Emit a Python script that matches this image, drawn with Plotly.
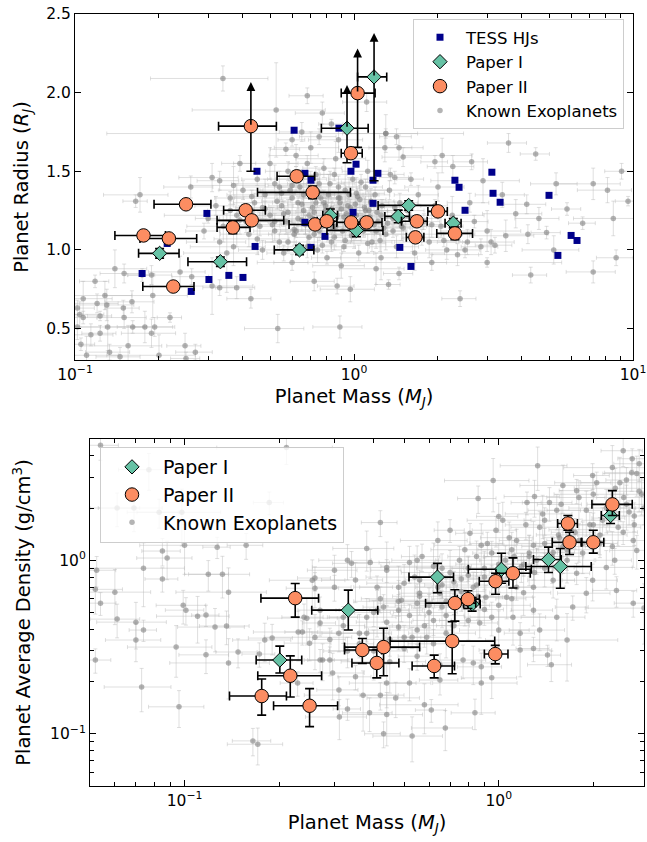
import numpy as np
import plotly.graph_objects as go

FONT = "DejaVu Sans"

# ---------------- TESS hot Jupiters (top panel) ----------------
tess_mass = [0.449, 0.610, 0.667, 0.701, 0.883, 1.017, 0.975, 1.218, 1.170, 2.30,
             2.38, 3.12, 3.15, 3.34, 2.50, 5.00, 6.00, 6.30, 5.38, 1.60,
             1.46, 0.701, 0.667, 0.787, 0.992, 1.170, 0.297, 0.442, 0.214, 0.174,
             0.302, 0.356, 0.400, 0.261]
tess_radius = [1.500, 1.761, 1.487, 1.443, 1.774, 1.545, 1.500, 1.487, 1.443, 1.443,
               1.398, 1.494, 1.360, 1.303, 1.252, 1.347, 1.092, 1.060, 0.965, 0.895,
               1.016, 1.016, 1.175, 1.086, 1.239, 1.296, 1.232, 1.022, 1.041, 0.850,
               0.812, 0.838, 0.825, 0.736]

# ---------------- Paper I ----------------
p1_mass = [0.201, 0.332, 0.638, 0.823, 1.02, 1.44, 1.57, 2.27, 0.944, 1.18]
p1_mass_lo = [0.032, 0.078, 0.12, 0.05, 0.22, 0.15, 0.35, 0.15, 0.18, 0.15]
p1_mass_hi = [0.035, 0.080, 0.08, 0.05, 0.25, 0.14, 0.40, 0.15, 0.18, 0.13]
p1_radius = [0.978, 0.925, 1.000, 1.220, 1.124, 1.213, 1.283, 1.170, 1.774, 2.100]
p1_radius_lo = [0.03, 0.03, 0.03, 0.04, 0.04, 0.04, 0.03, 0.03, 0.22, 0.66]
p1_radius_hi = [0.03, 0.03, 0.03, 0.04, 0.04, 0.04, 0.03, 0.03, 0.0, 0.0]
p1_radius_limit_tip = [None, None, None, None, None, None, None, None, 2.048, 2.379]
p1_density = [0.266, 0.516, 0.80, 0.559, 0.887, 1.01, 0.92, 1.81, None, None]
p1_density_hi = [0.054, 0.157, 0.16, 0.05, 0.21, 0.18, 0.25, 0.13, None, None]
p1_density_lo = [0.042, 0.120, 0.15, 0.05, 0.15, 0.16, 0.23, 0.18, None, None]

# ---------------- Paper II ----------------
p2_mass = [0.176, 0.217, 0.225, 0.250, 0.368, 0.409, 0.430, 0.427, 0.623, 0.711,
           0.725, 0.798, 0.977, 1.110, 1.660, 1.680, 2.000, 2.300, 0.975, 1.030]
p2_mass_lo = [0.037, 0.046, 0.050, 0.058, 0.045, 0.068, 0.107, 0.100, 0.093, 0.26,
              0.140, 0.060, 0.110, 0.130, 0.120, 0.200, 0.160, 0.320, 0.075, 0.13]
p2_mass_hi = [0.035, 0.056, 0.042, 0.057, 0.056, 0.072, 0.130, 0.100, 0.100, 0.26,
              0.120, 0.070, 0.100, 0.150, 0.120, 0.150, 0.160, 0.360, 0.095, 0.16]
p2_radius = [1.092, 1.073, 0.767, 1.290, 1.143, 1.252, 1.188, 1.787, 1.468, 1.366,
             1.162, 1.182, 1.175, 1.175, 1.080, 1.182, 1.245, 1.105, 1.615, 1.997]
p2_radius_lo = [0.02, 0.025, 0.02, 0.02, 0.04, 0.03, 0.03, 0.287, 0.03, 0.04,
                0.03, 0.03, 0.02, 0.02, 0.03, 0.03, 0.03, 0.04, 0.03, 0.345]
p2_radius_hi = [0.02, 0.025, 0.02, 0.02, 0.04, 0.03, 0.03, 0.0, 0.03, 0.04,
                0.03, 0.03, 0.02, 0.02, 0.03, 0.03, 0.03, 0.04, 0.03, 0.0]
p2_radius_limit_tip = [None, None, None, None, None, None, None, 2.067, None, None,
                       None, None, None, None, None, None, None, None, None, 2.28]
p2_density = [0.165, 0.216, 0.605, 0.145, 0.304, 0.256, 0.316, None, 0.246, 0.342,
              0.566, 0.597, 0.757, 0.842, 1.63, 1.27, 1.27, 2.10, 0.288, None]
p2_density_hi = [0.042, 0.065, 0.13, 0.037, 0.05, 0.05, 0.09, None, 0.038, 0.10,
                 0.11, 0.07, 0.085, 0.19, 0.18, 0.18, 0.22, 0.42, 0.035, None]
p2_density_lo = [0.037, 0.053, 0.135, 0.035, 0.05, 0.046, 0.10, None, 0.036, 0.12,
                 0.12, 0.07, 0.12, 0.15, 0.14, 0.19, 0.17, 0.29, 0.035, None]

# ---------------- Known exoplanets, top panel (mass, radius) ----------------
known_top_mass = [
    0.102, 0.104, 0.118, 0.139, 0.150, 0.130, 0.123, 0.150, 0.131, 0.123,
    0.114, 0.161, 0.178, 0.193, 0.188, 0.219, 0.155, 0.133, 0.248, 0.171,
    0.165, 0.533, 0.427, 0.330, 0.310, 0.380, 0.102, 0.107, 0.107, 0.120,
    0.128, 0.149, 0.160, 0.190, 0.174, 0.188, 0.238, 0.262, 0.105, 0.110,
    0.145, 0.200, 0.270, 0.250, 0.339, 0.526, 0.680, 0.770, 0.650, 0.600,
    0.570, 0.620, 0.700, 0.750, 0.830, 0.880, 1.110, 1.300, 1.420, 1.290,
    1.450, 1.500, 1.950, 2.070, 2.260, 2.640, 2.900, 1.400, 0.310, 0.330,
    0.390, 0.370, 0.260, 0.30, 0.32, 0.34, 0.36, 0.38, 0.40, 0.42,
    0.44, 0.45, 0.33, 0.37, 0.29, 0.41, 0.43, 0.46, 0.48, 0.50,
    0.52, 0.54, 0.55, 0.57, 0.58, 0.60, 0.62, 0.64, 0.66, 0.68,
    0.69, 0.50, 0.47, 0.56, 0.62, 0.52, 0.66, 0.71, 0.73, 0.75,
    0.77, 0.79, 0.81, 0.83, 0.85, 0.87, 0.89, 0.91, 0.93, 0.95,
    0.97, 0.99, 0.74, 0.80, 0.86, 0.92, 0.78, 0.72, 0.88, 1.02,
    1.05, 1.08, 1.10, 1.13, 1.16, 1.19, 1.22, 1.26, 1.30, 1.34,
    1.38, 1.42, 1.46, 1.04, 1.25, 1.12, 1.35, 1.48, 1.55, 1.62,
    1.70, 1.78, 1.86, 1.95, 2.05, 2.15, 2.25, 2.40, 2.55, 2.70,
    2.85, 1.65, 1.90, 2.35, 1.60, 2.00, 2.60, 3.00, 0.60, 0.90,
    1.20, 1.45, 0.72, 0.87, 0.97, 1.33, 2.40, 0.89, 0.35, 3.58,
    4.48, 5.30, 7.20, 9.10, 4.16, 8.10, 6.60, 8.50, 8.70, 7.20,
    4.30, 5.20, 4.90, 4.20, 3.50, 3.20, 3.10, 2.50, 9.60, 3.80,
    4.60, 5.80, 3.40, 1.30, 3.00, 0.52, 0.58, 0.63, 0.67, 0.71,
    0.76, 0.82, 0.90, 0.96, 1.01, 1.07, 1.15, 1.21, 1.28, 0.55,
    0.61, 0.69, 0.74, 0.84, 0.94, 1.03, 1.09, 1.18, 0.48, 0.65,
    0.79, 0.98, 1.14, 0.60, 0.70, 0.88, 1.06,
    0.36, 0.39, 0.43, 0.47, 0.51, 0.53, 0.56, 0.59, 0.61, 0.63,
    0.65, 0.67, 0.70, 0.72, 0.75, 0.78, 0.80, 0.83, 0.86, 0.89,
    0.92, 0.95, 0.98, 1.02, 1.06, 1.10, 1.15, 1.20, 1.25, 1.32,
    1.40, 1.50, 1.60, 1.75, 1.90, 2.10, 0.45, 0.58, 0.68, 0.77,
    0.85, 0.93, 1.00, 1.12, 1.24, 1.38, 0.54, 0.64, 0.73, 0.82]
known_top_radius = [
    0.63, 0.59, 0.80, 0.88, 0.85, 0.65, 0.58, 0.57, 0.51, 0.47,
    0.46, 0.51, 0.51, 0.51, 0.47, 0.57, 0.39, 0.35, 0.39, 1.35,
    1.31, 0.50, 0.69, 0.76, 0.77, 0.76, 0.51, 0.57, 0.69, 0.66,
    0.71, 0.63, 0.67, 0.71, 0.84, 0.84, 0.86, 0.83, 0.40, 0.33,
    0.32, 0.33, 0.35, 0.31, 2.09, 1.89, 1.98, 1.87, 1.75, 1.70,
    1.64, 1.60, 1.65, 1.72, 1.80, 1.70, 1.94, 1.74, 1.72, 1.65,
    1.65, 1.59, 1.56, 1.60, 1.53, 1.56, 1.44, 1.46, 1.46, 1.44,
    1.55, 1.41, 1.40, 1.20, 1.28, 1.15, 1.33, 1.22, 1.38, 1.10,
    1.30, 1.45, 1.05, 1.02, 1.12, 1.18, 1.25, 1.15, 1.35, 1.22,
    1.42, 1.05, 1.28, 1.18, 1.50, 1.33, 1.12, 1.40, 1.25, 1.55,
    1.08, 1.55, 1.00, 0.98, 1.45, 1.12, 1.35, 1.20, 1.30, 1.42,
    1.15, 1.25, 1.35, 1.05, 1.48, 1.22, 1.30, 1.12, 1.38, 1.18,
    1.27, 1.45, 1.00, 0.95, 1.58, 1.02, 1.52, 1.10, 1.40, 1.22,
    1.32, 1.12, 1.40, 1.25, 1.05, 1.35, 1.18, 1.28, 1.10, 1.38,
    1.20, 1.02, 1.30, 0.98, 0.95, 1.50, 1.48, 1.15, 1.25, 1.10,
    1.35, 1.18, 1.05, 1.28, 1.15, 1.00, 1.22, 1.10, 1.05, 1.18,
    1.02, 0.98, 0.92, 0.97, 1.45, 1.40, 1.30, 1.12, 0.92, 0.90,
    0.88, 0.85, 0.80, 0.77, 0.75, 0.78, 0.69, 0.51, 0.98, 1.68,
    1.61, 1.42, 1.42, 1.50, 1.29, 1.38, 1.17, 1.20, 0.95, 0.86,
    0.84, 1.00, 1.11, 1.10, 1.09, 1.03, 1.05, 1.00, 1.31, 1.23,
    1.20, 1.26, 1.35, 1.74, 0.92, 1.18, 1.24, 1.30, 1.16, 1.27,
    1.33, 1.20, 1.26, 1.35, 1.29, 1.17, 1.31, 1.24, 1.14, 1.36,
    1.10, 1.22, 1.37, 1.14, 1.23, 1.34, 1.27, 1.16, 1.26, 1.19,
    1.28, 1.09, 1.21, 1.41, 1.45, 1.33, 1.43,
    1.25, 1.19, 1.34, 1.27, 1.16, 1.31, 1.23, 1.38, 1.13, 1.20,
    1.29, 1.17, 1.35, 1.24, 1.12, 1.30, 1.19, 1.26, 1.15, 1.33,
    1.21, 1.28, 1.14, 1.36, 1.19, 1.25, 1.30, 1.12, 1.22, 1.17,
    1.27, 1.14, 1.20, 1.08, 1.16, 1.06, 1.07, 1.05, 1.02, 1.03,
    1.08, 1.06, 1.10, 1.04, 1.06, 1.12, 1.40, 1.45, 1.48, 1.42]
known_top_mass_relerr = [
    0.15, 0.22, 0.12, 0.30, 0.18, 0.25, 0.10, 0.20, 0.35, 0.14,
    0.20, 0.12, 0.28, 0.16, 0.22, 0.10, 0.32, 0.18, 0.14, 0.26,
    0.10, 0.24, 0.18, 0.13, 0.40, 0.16, 0.21, 0.12, 0.27, 0.19,
    0.25, 0.14, 0.20, 0.33, 0.11, 0.18, 0.23, 0.15, 0.12, 0.30,
    0.18, 0.35, 0.15, 0.12, 0.45, 0.50, 0.14, 0.20, 0.17, 0.11,
    0.12, 0.20, 0.26, 0.15, 0.10, 0.22, 0.18, 0.30, 0.13, 0.25,
    0.22, 0.16, 0.11, 0.28, 0.19, 0.14, 0.35, 0.12, 0.24, 0.17,
    0.14, 0.30, 0.20, 0.10, 0.16, 0.26, 0.12, 0.45, 0.18, 0.21,
    0.16, 0.12, 0.24, 0.30, 0.14, 0.20, 0.11, 0.18, 0.27, 0.13,
    0.30, 0.15, 0.10, 0.22, 0.17, 0.38, 0.12, 0.19, 0.25, 0.14,
    0.11, 0.26, 0.18, 0.13, 0.21, 0.16, 0.29, 0.10, 0.15, 0.23,
    0.19, 0.12, 0.33, 0.17, 0.11, 0.24, 0.14, 0.20, 0.42, 0.15,
    0.13, 0.18, 0.22, 0.12, 0.28, 0.10, 0.16, 0.25, 0.19, 0.14,
    0.24, 0.11, 0.15, 0.31, 0.18, 0.13, 0.21, 0.12, 0.26, 0.17,
    0.10, 0.20, 0.16, 0.13, 0.35, 0.19, 0.12, 0.23, 0.15, 0.27,
    0.18, 0.14, 0.25, 0.11, 0.20, 0.16, 0.30, 0.13, 0.22, 0.12,
    0.15, 0.28, 0.13, 0.19, 0.11, 0.24, 0.17, 0.32, 0.14, 0.21,
    0.26, 0.12, 0.18, 0.15, 0.22, 0.10, 0.14, 0.20, 0.30, 0.16,
    0.12, 0.19, 0.25, 0.13, 0.17, 0.22, 0.11, 0.28, 0.15, 0.20,
    0.14, 0.23, 0.12, 0.18, 0.26, 0.15, 0.21, 0.13, 0.10, 0.24,
    0.18, 0.12, 0.20, 0.90, 0.85, 0.15, 0.22, 0.12, 0.18, 0.25,
    0.14, 0.20, 0.11, 0.28, 0.16, 0.13, 0.21, 0.17, 0.24, 0.12,
    0.19, 0.15, 0.26, 0.11, 0.22, 0.14, 0.18, 0.30, 0.13, 0.20,
    0.16, 0.12, 0.23, 0.18, 0.14, 0.25, 0.15,
    0.17, 0.24, 0.13, 0.20, 0.28, 0.12, 0.18, 0.22, 0.15, 0.31,
    0.11, 0.19, 0.25, 0.14, 0.21, 0.16, 0.27, 0.12, 0.20, 0.15,
    0.23, 0.13, 0.18, 0.26, 0.11, 0.20, 0.16, 0.29, 0.14, 0.22,
    0.12, 0.18, 0.25, 0.15, 0.20, 0.13, 0.30, 0.17, 0.22, 0.12,
    0.19, 0.14, 0.24, 0.16, 0.21, 0.11, 0.26, 0.18, 0.13, 0.23]
known_top_radius_err = [
    0.05, 0.08, 0.04, 0.12, 0.06, 0.10, 0.03, 0.07, 0.15, 0.05,
    0.07, 0.04, 0.10, 0.06, 0.09, 0.03, 0.13, 0.05, 0.08, 0.11,
    0.04, 0.09, 0.06, 0.05, 0.18, 0.07, 0.08, 0.04, 0.11, 0.06,
    0.09, 0.05, 0.07, 0.14, 0.04, 0.06, 0.10, 0.05, 0.04, 0.12,
    0.06, 0.13, 0.05, 0.04, 0.08, 0.30, 0.05, 0.07, 0.06, 0.04,
    0.04, 0.07, 0.10, 0.05, 0.03, 0.08, 0.06, 0.12, 0.05, 0.09,
    0.08, 0.06, 0.04, 0.11, 0.07, 0.05, 0.14, 0.04, 0.09, 0.06,
    0.05, 0.12, 0.07, 0.03, 0.06, 0.10, 0.04, 0.20, 0.06, 0.08,
    0.06, 0.04, 0.09, 0.12, 0.05, 0.07, 0.03, 0.06, 0.10, 0.05,
    0.12, 0.05, 0.03, 0.08, 0.06, 0.16, 0.04, 0.07, 0.09, 0.05,
    0.04, 0.10, 0.06, 0.05, 0.08, 0.06, 0.11, 0.03, 0.05, 0.09,
    0.07, 0.04, 0.13, 0.06, 0.04, 0.09, 0.05, 0.07, 0.18, 0.05,
    0.05, 0.07, 0.08, 0.04, 0.11, 0.03, 0.06, 0.10, 0.07, 0.05,
    0.09, 0.04, 0.05, 0.12, 0.06, 0.05, 0.08, 0.04, 0.10, 0.06,
    0.03, 0.07, 0.06, 0.05, 0.14, 0.07, 0.04, 0.09, 0.05, 0.11,
    0.06, 0.05, 0.10, 0.04, 0.07, 0.06, 0.12, 0.05, 0.08, 0.04,
    0.05, 0.11, 0.05, 0.07, 0.04, 0.09, 0.06, 0.13, 0.05, 0.08,
    0.10, 0.04, 0.06, 0.05, 0.08, 0.03, 0.05, 0.07, 0.25, 0.06,
    0.04, 0.07, 0.10, 0.05, 0.06, 0.08, 0.04, 0.11, 0.05, 0.07,
    0.05, 0.09, 0.04, 0.06, 0.10, 0.05, 0.08, 0.05, 0.03, 0.09,
    0.07, 0.04, 0.08, 0.03, 0.03, 0.05, 0.08, 0.04, 0.06, 0.10,
    0.05, 0.07, 0.04, 0.11, 0.06, 0.05, 0.08, 0.06, 0.09, 0.04,
    0.07, 0.05, 0.10, 0.04, 0.08, 0.05, 0.06, 0.12, 0.05, 0.07,
    0.06, 0.04, 0.09, 0.06, 0.05, 0.10, 0.05,
    0.06, 0.09, 0.04, 0.07, 0.11, 0.05, 0.08, 0.06, 0.04, 0.10,
    0.05, 0.07, 0.09, 0.04, 0.06, 0.08, 0.12, 0.05, 0.07, 0.04,
    0.09, 0.05, 0.06, 0.10, 0.04, 0.07, 0.05, 0.11, 0.06, 0.08,
    0.04, 0.07, 0.09, 0.05, 0.08, 0.04, 0.10, 0.06, 0.07, 0.05,
    0.08, 0.05, 0.09, 0.06, 0.07, 0.04, 0.10, 0.06, 0.05, 0.08]

# ---------------- Known exoplanets, bottom panel (mass, density) ----------------
known_bot_mass = [
    0.0525, 0.052, 0.054, 0.060, 0.061, 0.070, 0.074, 0.070, 0.074, 0.085,
    0.088, 0.085, 0.100, 0.119, 0.132, 0.127, 0.138, 0.099, 0.101, 0.110,
    0.117, 0.125, 0.136, 0.157, 0.211, 0.190, 0.180, 0.237, 0.255, 0.260,
    0.245, 0.054, 0.077, 0.098, 0.186, 0.061, 0.069, 0.083, 0.052, 0.094,
    0.117, 0.138, 0.148, 0.173, 0.073, 0.096, 0.165, 0.171, 0.250, 0.270,
    0.229, 0.275, 0.296, 0.310, 0.330, 0.311, 0.388, 0.440, 0.430, 0.530,
    0.676, 0.840, 0.610, 0.580, 0.470, 0.420, 0.370, 0.350, 0.440, 0.520,
    0.650, 0.880, 0.950, 1.430, 1.470, 1.170, 1.290, 1.650, 0.770, 0.830,
    0.880, 0.650, 1.330, 0.960, 0.860, 1.300, 1.230, 1.450, 1.600, 1.990,
    2.300, 2.490, 2.660, 2.750, 2.800, 2.430, 1.770, 1.530, 1.900, 2.140,
    2.490, 2.680, 2.750, 2.340, 2.200, 0.980, 0.880, 0.810, 1.000, 1.030,
    1.350, 1.140, 1.290, 1.490, 0.700, 0.640, 0.570, 0.520, 0.440, 0.390,
    0.340, 0.300, 0.350, 0.410, 0.480, 0.560, 0.650, 0.550, 0.480, 0.430,
    0.380, 0.320, 0.270, 0.260, 0.830, 0.910, 1.060, 1.140, 1.290, 1.490,
    1.770, 1.990, 2.370, 2.680, 2.900, 1.900, 1.720, 1.530, 1.290, 1.110,
    0.950, 0.870, 1.000, 1.170, 1.350, 0.590, 0.550, 0.420, 0.380, 0.260,
    0.240, 0.230, 0.300, 0.330, 0.440, 0.500, 0.550, 0.620, 0.560, 0.490,
    0.410, 0.270, 0.310, 0.290, 0.480, 0.530, 0.620, 0.660, 0.700, 0.750,
    0.800, 0.850, 0.900, 0.950, 1.050, 1.100, 1.200, 1.250, 0.720, 0.780,
    0.680, 0.600, 0.660, 0.760, 1.600, 1.700, 1.800, 2.000, 2.100, 2.200,
    2.500, 2.600, 2.800, 2.900, 1.400, 1.550, 1.650, 1.850, 2.300, 2.000,
    2.550, 2.700, 0.360, 0.400, 0.450, 0.500, 0.580, 0.620, 0.680, 0.720,
    0.800, 0.900, 1.000, 1.100, 1.200, 1.300, 1.400, 0.450, 0.550, 0.380,
    0.330, 0.290,
    0.32, 0.36, 0.40, 0.44, 0.48, 0.52, 0.56, 0.60, 0.64, 0.68,
    0.72, 0.76, 0.80, 0.85, 0.90, 0.95, 1.00, 1.06, 1.12, 1.18,
    1.25, 1.32, 1.40, 1.48, 1.56, 1.65, 1.75, 1.85, 1.95, 2.10,
    2.25, 2.40, 2.55, 2.70, 2.85, 0.42, 0.54, 0.66, 0.78, 0.92,
    1.08, 1.22, 1.38, 1.58, 1.80, 2.05, 2.35, 2.65, 0.50, 0.86]
known_bot_density = [
    0.876, 0.680, 0.566, 0.655, 0.458, 0.440, 0.396, 0.347, 0.900, 1.130,
    1.030, 0.780, 1.220, 0.830, 0.830, 1.190, 0.655, 0.550, 0.516, 0.476,
    0.483, 0.412, 0.418, 1.220, 4.460, 0.356, 0.347, 0.386, 0.767, 0.690,
    0.464, 4.600, 3.330, 1.890, 2.150, 2.000, 2.000, 1.890, 0.266, 0.316,
    0.285, 0.256, 0.296, 0.288, 0.186, 0.143, 0.091, 0.087, 0.333, 0.266,
    0.196, 0.266, 0.224, 0.179, 0.139, 0.125, 0.132, 0.129, 0.100, 0.097,
    0.108, 0.132, 0.137, 0.147, 0.161, 0.167, 0.167, 0.213, 0.196, 0.196,
    0.204, 0.196, 0.210, 0.284, 0.250, 0.304, 0.310, 0.347, 0.266, 0.256,
    0.243, 0.249, 3.510, 2.880, 2.270, 2.330, 2.150, 2.150, 2.700, 3.080,
    3.420, 4.280, 3.850, 3.160, 3.600, 2.800, 2.520, 1.940, 1.940, 1.700,
    1.450, 1.300, 1.140, 1.000, 0.910, 1.490, 1.220, 1.430, 1.790, 1.700,
    1.550, 1.300, 1.220, 1.110, 1.490, 1.300, 1.050, 0.970, 0.910, 0.970,
    0.960, 0.876, 0.770, 0.700, 0.700, 0.770, 0.646, 0.566, 0.516, 0.537,
    0.470, 0.470, 0.516, 0.360, 0.700, 0.613, 0.613, 0.700, 0.700, 0.767,
    0.842, 0.767, 0.670, 0.566, 0.530, 0.646, 0.537, 0.470, 0.516, 0.470,
    0.470, 0.435, 0.396, 0.380, 0.396, 0.360, 0.396, 1.650, 1.170, 0.790,
    0.470, 0.386, 0.700, 1.000, 0.876, 0.738, 1.000, 0.924, 0.646, 0.589,
    0.516, 0.435, 0.380, 0.266, 0.412, 0.360, 0.450, 0.537, 0.850, 1.000,
    0.900, 1.050, 0.800, 1.100, 1.000, 1.150, 0.950, 1.050, 0.600, 0.550,
    0.480, 0.500, 0.720, 0.780, 1.200, 1.500, 1.300, 1.600, 1.250, 2.000,
    2.300, 1.900, 2.500, 2.000, 1.700, 1.400, 1.000, 1.100, 1.200, 2.400,
    2.900, 1.600, 0.330, 0.300, 0.350, 0.310, 0.420, 0.330, 0.380, 0.420,
    0.450, 0.520, 0.550, 0.600, 0.650, 0.850, 0.900, 0.260, 0.280, 0.380,
    0.300, 0.350,
    0.42, 0.38, 0.50, 0.44, 0.58, 0.48, 0.62, 0.55, 0.70, 0.58,
    0.75, 0.66, 0.82, 0.72, 0.90, 0.78, 0.95, 0.85, 1.05, 0.92,
    1.10, 1.00, 1.25, 1.05, 1.35, 1.15, 1.45, 1.25, 1.60, 1.40,
    1.75, 1.55, 2.10, 1.80, 2.40, 0.60, 0.80, 0.90, 1.15, 1.25,
    1.35, 1.60, 1.85, 2.10, 2.30, 2.80, 2.60, 3.20, 0.36, 0.62]
known_bot_mass_relerr = [
    0.15, 0.22, 0.12, 0.30, 0.18, 0.25, 0.10, 0.20, 0.35, 0.14,
    0.20, 0.12, 0.28, 0.16, 0.22, 0.10, 0.32, 0.18, 0.14, 0.26,
    0.10, 0.24, 0.18, 0.13, 0.40, 0.16, 0.21, 0.12, 0.27, 0.19,
    0.25, 0.14, 0.20, 0.33, 0.11, 0.18, 0.23, 0.15, 0.12, 0.30,
    0.18, 0.35, 0.15, 0.12, 0.24, 0.20, 0.14, 0.20, 0.17, 0.11,
    0.12, 0.20, 0.26, 0.15, 0.10, 0.22, 0.18, 0.30, 0.13, 0.25,
    0.22, 0.16, 0.11, 0.28, 0.19, 0.14, 0.35, 0.12, 0.24, 0.17,
    0.14, 0.30, 0.20, 0.10, 0.16, 0.26, 0.12, 0.45, 0.18, 0.21,
    0.16, 0.12, 0.24, 0.30, 0.14, 0.20, 0.11, 0.18, 0.27, 0.13,
    0.30, 0.15, 0.10, 0.22, 0.17, 0.38, 0.12, 0.19, 0.25, 0.14,
    0.11, 0.26, 0.18, 0.13, 0.21, 0.16, 0.29, 0.10, 0.15, 0.23,
    0.19, 0.12, 0.33, 0.17, 0.11, 0.24, 0.14, 0.20, 0.42, 0.15,
    0.13, 0.18, 0.22, 0.12, 0.28, 0.10, 0.16, 0.25, 0.19, 0.14,
    0.24, 0.11, 0.15, 0.31, 0.18, 0.13, 0.21, 0.12, 0.26, 0.17,
    0.10, 0.20, 0.16, 0.13, 0.35, 0.19, 0.12, 0.23, 0.15, 0.27,
    0.18, 0.14, 0.25, 0.11, 0.20, 0.16, 0.30, 0.13, 0.22, 0.12,
    0.15, 0.28, 0.13, 0.19, 0.11, 0.24, 0.17, 0.32, 0.14, 0.21,
    0.26, 0.12, 0.18, 0.15, 0.22, 0.10, 0.14, 0.20, 0.30, 0.16,
    0.12, 0.19, 0.25, 0.13, 0.17, 0.22, 0.11, 0.28, 0.15, 0.20,
    0.14, 0.23, 0.12, 0.18, 0.26, 0.15, 0.21, 0.13, 0.10, 0.24,
    0.18, 0.12, 0.20, 0.16, 0.14, 0.15, 0.22, 0.12, 0.18, 0.25,
    0.14, 0.20, 0.11, 0.28, 0.16, 0.13, 0.21, 0.17, 0.24, 0.12,
    0.19, 0.15, 0.26, 0.11, 0.22, 0.14, 0.18, 0.30, 0.13, 0.20,
    0.16, 0.12,
    0.17, 0.24, 0.13, 0.20, 0.28, 0.12, 0.18, 0.22, 0.15, 0.31,
    0.11, 0.19, 0.25, 0.14, 0.21, 0.16, 0.27, 0.12, 0.20, 0.15,
    0.23, 0.13, 0.18, 0.26, 0.11, 0.20, 0.16, 0.29, 0.14, 0.22,
    0.12, 0.18, 0.25, 0.15, 0.20, 0.13, 0.30, 0.17, 0.22, 0.12,
    0.19, 0.14, 0.24, 0.16, 0.21, 0.11, 0.26, 0.18, 0.13, 0.23]
known_bot_density_relerr = [
    0.20, 0.28, 0.15, 0.35, 0.22, 0.30, 0.14, 0.25, 0.40, 0.18,
    0.25, 0.16, 0.32, 0.20, 0.27, 0.14, 0.38, 0.22, 0.18, 0.30,
    0.14, 0.28, 0.22, 0.17, 0.20, 0.20, 0.25, 0.16, 0.31, 0.23,
    0.30, 0.18, 0.24, 0.36, 0.15, 0.22, 0.27, 0.19, 0.16, 0.33,
    0.22, 0.38, 0.19, 0.16, 0.28, 0.24, 0.18, 0.24, 0.21, 0.15,
    0.16, 0.24, 0.30, 0.19, 0.14, 0.26, 0.22, 0.34, 0.17, 0.29,
    0.26, 0.20, 0.15, 0.32, 0.23, 0.18, 0.38, 0.16, 0.28, 0.21,
    0.18, 0.34, 0.24, 0.14, 0.20, 0.30, 0.16, 0.42, 0.22, 0.25,
    0.20, 0.16, 0.28, 0.34, 0.18, 0.24, 0.15, 0.22, 0.31, 0.17,
    0.34, 0.19, 0.14, 0.26, 0.21, 0.40, 0.16, 0.23, 0.29, 0.18,
    0.15, 0.30, 0.22, 0.17, 0.25, 0.20, 0.33, 0.14, 0.19, 0.27,
    0.23, 0.16, 0.37, 0.21, 0.15, 0.28, 0.18, 0.24, 0.40, 0.19,
    0.17, 0.22, 0.26, 0.16, 0.32, 0.14, 0.20, 0.29, 0.23, 0.18,
    0.28, 0.15, 0.19, 0.35, 0.22, 0.17, 0.25, 0.16, 0.30, 0.21,
    0.14, 0.24, 0.20, 0.17, 0.38, 0.23, 0.16, 0.27, 0.19, 0.31,
    0.22, 0.18, 0.29, 0.15, 0.24, 0.20, 0.34, 0.17, 0.26, 0.16,
    0.19, 0.32, 0.17, 0.23, 0.15, 0.28, 0.21, 0.36, 0.18, 0.25,
    0.30, 0.16, 0.22, 0.19, 0.26, 0.14, 0.18, 0.24, 0.34, 0.20,
    0.16, 0.23, 0.29, 0.17, 0.21, 0.26, 0.15, 0.32, 0.19, 0.24,
    0.18, 0.27, 0.16, 0.22, 0.30, 0.19, 0.25, 0.17, 0.14, 0.28,
    0.22, 0.16, 0.24, 0.20, 0.18, 0.19, 0.26, 0.16, 0.22, 0.29,
    0.18, 0.24, 0.15, 0.32, 0.20, 0.17, 0.25, 0.21, 0.28, 0.16,
    0.23, 0.19, 0.30, 0.15, 0.26, 0.18, 0.22, 0.34, 0.17, 0.24,
    0.20, 0.16,
    0.21, 0.28, 0.17, 0.24, 0.32, 0.16, 0.22, 0.26, 0.19, 0.35,
    0.15, 0.23, 0.29, 0.18, 0.25, 0.20, 0.31, 0.16, 0.24, 0.19,
    0.27, 0.17, 0.22, 0.30, 0.15, 0.24, 0.20, 0.33, 0.18, 0.26,
    0.16, 0.22, 0.29, 0.19, 0.24, 0.17, 0.34, 0.21, 0.26, 0.16,
    0.23, 0.18, 0.28, 0.20, 0.25, 0.15, 0.30, 0.22, 0.17, 0.27]

assert len(known_top_mass) == len(known_top_radius) == len(known_top_mass_relerr) == len(known_top_radius_err)
assert len(known_bot_mass) == len(known_bot_density) == len(known_bot_mass_relerr) == len(known_bot_density_relerr)

# ---------------- styles ----------------
C_P1 = "#66c2a5"
C_P2 = "#fc8d62"
C_TESS = "#00008b"
KNOWN_MARKER = "rgba(130,130,130,0.6)"
KNOWN_ERR = "rgba(185,185,185,0.45)"

km_t = np.array(known_top_mass)
kb_m = np.array(known_bot_mass)
kb_d = np.array(known_bot_density)

fig = go.Figure()

# ----- top panel -----
fig.add_trace(go.Scatter(
    x=known_top_mass, y=known_top_radius, mode="markers", name="Known Exoplanets",
    xaxis="x", yaxis="y", legend="legend", legendrank=4,
    marker=dict(color=KNOWN_MARKER, size=5.5),
    error_x=dict(type="data", array=(km_t * np.array(known_top_mass_relerr)).tolist(),
                 color=KNOWN_ERR, thickness=1, width=2),
    error_y=dict(type="data", array=known_top_radius_err, color=KNOWN_ERR, thickness=1, width=2),
))
fig.add_trace(go.Scatter(
    x=tess_mass, y=tess_radius, mode="markers", name="TESS HJs",
    xaxis="x", yaxis="y", legend="legend", legendrank=1,
    marker=dict(color=C_TESS, size=7, symbol="square"),
))
err_black = dict(color="black", thickness=1.6, width=4.5)
fig.add_trace(go.Scatter(
    x=p1_mass, y=p1_radius, mode="markers", name="Paper I",
    xaxis="x", yaxis="y", legend="legend", legendrank=2,
    marker=dict(color=C_P1, size=11, symbol="diamond", line=dict(color="black", width=1)),
    error_x=dict(type="data", symmetric=False, array=p1_mass_hi, arrayminus=p1_mass_lo, **err_black),
    error_y=dict(type="data", symmetric=False, array=p1_radius_hi, arrayminus=p1_radius_lo, **err_black),
))
fig.add_trace(go.Scatter(
    x=p2_mass, y=p2_radius, mode="markers", name="Paper II",
    xaxis="x", yaxis="y", legend="legend", legendrank=3,
    marker=dict(color=C_P2, size=13.5, symbol="circle", line=dict(color="black", width=1)),
    error_x=dict(type="data", symmetric=False, array=p2_mass_hi, arrayminus=p2_mass_lo, **err_black),
    error_y=dict(type="data", symmetric=False, array=p2_radius_hi, arrayminus=p2_radius_lo, **err_black),
))

# ----- bottom panel -----
fig.add_trace(go.Scatter(
    x=known_bot_mass, y=known_bot_density, mode="markers", name="Known Exoplanets",
    xaxis="x2", yaxis="y2", legend="legend2", legendrank=3,
    marker=dict(color=KNOWN_MARKER, size=5.5),
    error_x=dict(type="data", array=(kb_m * np.array(known_bot_mass_relerr)).tolist(),
                 color=KNOWN_ERR, thickness=1, width=2),
    error_y=dict(type="data", array=(kb_d * np.array(known_bot_density_relerr)).tolist(),
                 color=KNOWN_ERR, thickness=1, width=2),
))

def with_density(mass, mlo, mhi, dens, dlo, dhi):
    idx = [i for i, d in enumerate(dens) if d is not None]
    return ([mass[i] for i in idx], [mlo[i] for i in idx], [mhi[i] for i in idx],
            [dens[i] for i in idx], [dlo[i] for i in idx], [dhi[i] for i in idx])

m1, m1lo, m1hi, d1, d1lo, d1hi = with_density(p1_mass, p1_mass_lo, p1_mass_hi, p1_density, p1_density_lo, p1_density_hi)
m2, m2lo, m2hi, d2, d2lo, d2hi = with_density(p2_mass, p2_mass_lo, p2_mass_hi, p2_density, p2_density_lo, p2_density_hi)

fig.add_trace(go.Scatter(
    x=m1, y=d1, mode="markers", name="Paper I",
    xaxis="x2", yaxis="y2", legend="legend2", legendrank=1,
    marker=dict(color=C_P1, size=11, symbol="diamond", line=dict(color="black", width=1)),
    error_x=dict(type="data", symmetric=False, array=m1hi, arrayminus=m1lo, **err_black),
    error_y=dict(type="data", symmetric=False, array=d1hi, arrayminus=d1lo, **err_black),
))
fig.add_trace(go.Scatter(
    x=m2, y=d2, mode="markers", name="Paper II",
    xaxis="x2", yaxis="y2", legend="legend2", legendrank=2,
    marker=dict(color=C_P2, size=13.5, symbol="circle", line=dict(color="black", width=1)),
    error_x=dict(type="data", symmetric=False, array=m2hi, arrayminus=m2lo, **err_black),
    error_y=dict(type="data", symmetric=False, array=d2hi, arrayminus=d2lo, **err_black),
))

# ----- lower-limit arrows (top panel) -----
annotations = []
for mass, rad, tip in list(zip(p1_mass, p1_radius, p1_radius_limit_tip)) + list(zip(p2_mass, p2_radius, p2_radius_limit_tip)):
    if tip is None:
        continue
    lx = float(np.log10(mass))
    annotations.append(dict(
        x=lx, y=tip, ax=lx, ay=rad, xref="x", yref="y", axref="x", ayref="y",
        text="", showarrow=True, arrowhead=2, arrowsize=1.1, arrowwidth=1.6,
        arrowcolor="black", standoff=0, startstandoff=0))

# ----- axes -----
W, H = 647, 842

def axis_common():
    return dict(showline=True, linecolor="black", linewidth=1.2, mirror="allticks",
                ticks="inside", ticklen=6, tickwidth=1.1, tickcolor="black",
                showgrid=False, zeroline=False, automargin=False,
                tickfont=dict(family=FONT, size=15.5, color="black"))

def minor_log(vals):
    return dict(ticks="inside", ticklen=3.5, tickwidth=0.9, tickcolor="black",
                tickvals=vals, showgrid=False)

minor_top_x = [0.2, 0.3, 0.4, 0.5, 0.6, 0.7, 0.8, 0.9, 2, 3, 4, 5, 6, 7, 8, 9]
minor_bot_x = [0.05, 0.06, 0.07, 0.08, 0.09, 0.2, 0.3, 0.4, 0.5, 0.6, 0.7, 0.8, 0.9, 2]
minor_bot_y = [0.05, 0.06, 0.07, 0.08, 0.09, 0.2, 0.3, 0.4, 0.5, 0.6, 0.7, 0.8, 0.9, 2, 3, 4, 5]

title_font = dict(family=FONT, size=19.5, color="black")

xaxis = axis_common()
xaxis.update(domain=[75 / W, 633 / W], anchor="y", type="log", range=[-1, 1],
             tickvals=[0.1, 1, 10], ticktext=["10<sup>−1</sup>", "10<sup>0</sup>", "10<sup>1</sup>"],
             minor=minor_log(minor_top_x),
             title=dict(text="Planet Mass (<i>M<sub>J</sub></i>)", font=title_font, standoff=6))
yaxis = axis_common()
yaxis.update(domain=[1 - 360 / H, 1 - 14 / H], anchor="x", range=[0.3, 2.5],
             tickvals=[0.5, 1.0, 1.5, 2.0, 2.5], ticktext=["0.5", "1.0", "1.5", "2.0", "2.5"],
             title=dict(text="Planet Radius (<i>R<sub>J</sub></i>)", font=title_font, standoff=12))
xaxis2 = axis_common()
xaxis2.update(domain=[90 / W, 644 / W], anchor="y2", type="log",
              range=[float(np.log10(0.05)), float(np.log10(2.9))],
              tickvals=[0.1, 1], ticktext=["10<sup>−1</sup>", "10<sup>0</sup>"],
              minor=minor_log(minor_bot_x),
              title=dict(text="Planet Mass (<i>M<sub>J</sub></i>)", font=title_font, standoff=6))
yaxis2 = axis_common()
yaxis2.update(domain=[1 - 786 / H, 1 - 439 / H], anchor="x2", type="log",
              range=[float(np.log10(0.05)), float(np.log10(5))],
              tickvals=[0.1, 1], ticktext=["10<sup>−1</sup>", "10<sup>0</sup>"],
              minor=minor_log(minor_bot_y),
              title=dict(text="Planet Average Density (g/cm<sup>3</sup>)", font=title_font, standoff=14))

fig.update_layout(
    width=W, height=H, margin=dict(l=0, r=0, t=0, b=0, autoexpand=False),
    paper_bgcolor="white", plot_bgcolor="white",
    font=dict(family=FONT, color="black"),
    xaxis=xaxis, yaxis=yaxis, xaxis2=xaxis2, yaxis2=yaxis2,
    annotations=annotations,
    legend=dict(x=413 / W, y=1 - 19 / H, xanchor="left", yanchor="top",
                bgcolor="rgba(255,255,255,0.8)", bordercolor="rgba(200,200,200,0.9)", borderwidth=1,
                font=dict(family=FONT, size=16.5, color="black"), tracegroupgap=0, itemwidth=42),
    legend2=dict(x=100 / W, y=1 - 447 / H, xanchor="left", yanchor="top",
                 bgcolor="rgba(255,255,255,0.8)", bordercolor="rgba(200,200,200,0.9)", borderwidth=1,
                 font=dict(family=FONT, size=19, color="black"), tracegroupgap=0, itemwidth=52),
    showlegend=True,
)

fig.write_html("out.html")
